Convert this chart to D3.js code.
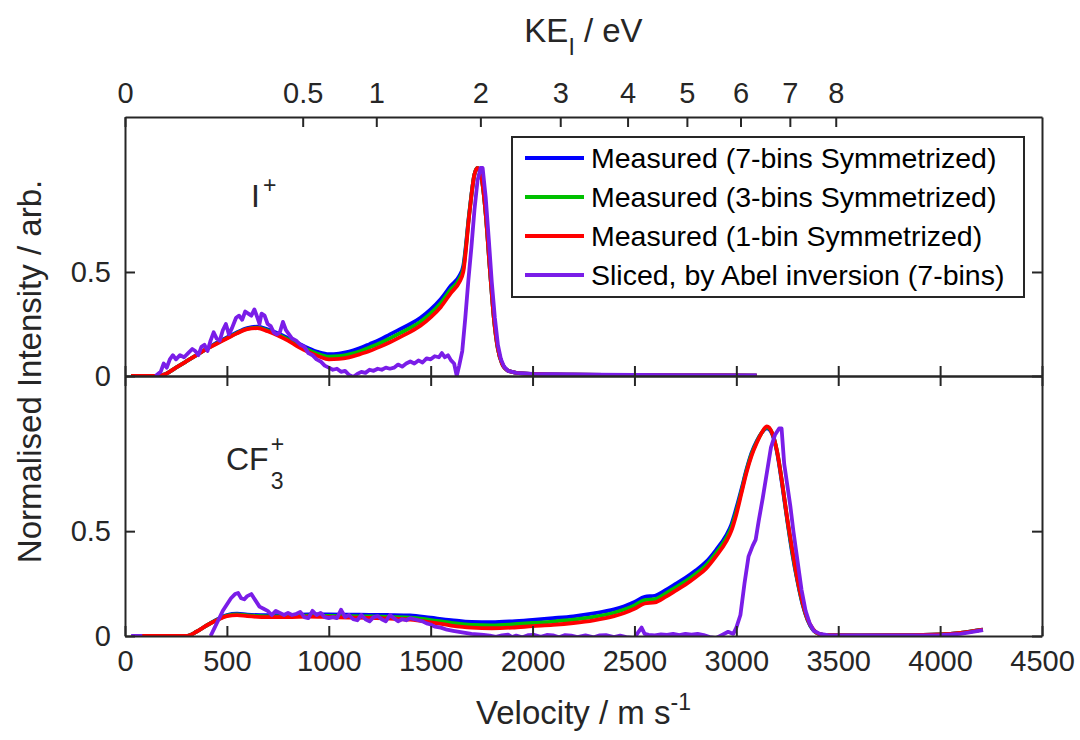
<!DOCTYPE html>
<html>
<head>
<meta charset="utf-8">
<script src="https://cdn.jsdelivr.net/npm/d3@7"></script>
<style>
  body { margin: 0; background: #fff; }
  svg text { font-family: "Liberation Sans", Arial, sans-serif; fill: #262626; }
  .axis path, .axis line { stroke: #262626; stroke-width: 2; }
  .axis text { font-size: 29px; }
</style>
</head>
<body>
<div id="chart"></div>
<script>
// ---- data ----
var velTicks = [0, 500, 1000, 1500, 2000, 2500, 3000, 3500, 4000, 4500];
var keTicks = [0, 0.5, 1, 2, 3, 4, 5, 6, 7, 8];
var yTicks = [0, 0.5];

var seriesNames = [
  "Measured (7-bins Symmetrized)",
  "Measured (3-bins Symmetrized)",
  "Measured (1-bin Symmetrized)",
  "Sliced, by Abel inversion (7-bins)"
];
var seriesColors = ["#0000ff", "#00c000", "#ff0000", "#7a1de8"];

// I+ panel, measured curves
var iVel = [30, 150, 200, 250, 300, 350, 400, 450, 500, 550, 600, 650, 700, 750, 800, 850, 900, 950,
  1000, 1050, 1100, 1150, 1200, 1250, 1300, 1350, 1400, 1450, 1500, 1550, 1600, 1640, 1660, 1690,
  1715, 1730, 1750, 1770, 1790, 1810, 1830, 1850, 1880, 1920, 2000, 2200, 2500, 2800, 3100];
var iBlue = [0, 0, 0.01, 0.04, 0.07, 0.1, 0.13, 0.16, 0.185, 0.21, 0.23, 0.237, 0.224, 0.205, 0.182, 0.158, 0.134, 0.115,
  0.105, 0.108, 0.117, 0.133, 0.153, 0.174, 0.2, 0.225, 0.25, 0.28, 0.32, 0.37, 0.435, 0.48, 0.53, 0.79,
  0.97, 1.0, 0.95, 0.78, 0.52, 0.28, 0.13, 0.06, 0.025, 0.015, 0.01, 0.006, 0.004, 0.003, 0.002];
var iGreen = [0, 0, 0.01, 0.04, 0.07, 0.1, 0.13, 0.157, 0.182, 0.207, 0.227, 0.233, 0.219, 0.2, 0.176, 0.149, 0.125, 0.105,
  0.093, 0.095, 0.104, 0.118, 0.137, 0.157, 0.181, 0.206, 0.231, 0.261, 0.301, 0.351, 0.418, 0.465, 0.515, 0.785,
  0.97, 1.0, 0.95, 0.78, 0.52, 0.28, 0.13, 0.06, 0.025, 0.015, 0.01, 0.006, 0.004, 0.003, 0.002];
var iRed = [0, 0, 0.01, 0.04, 0.07, 0.1, 0.13, 0.155, 0.18, 0.205, 0.225, 0.23, 0.215, 0.195, 0.17, 0.14, 0.115, 0.095,
  0.08, 0.082, 0.09, 0.104, 0.12, 0.14, 0.162, 0.187, 0.212, 0.242, 0.282, 0.332, 0.4, 0.45, 0.5, 0.78,
  0.97, 1.0, 0.95, 0.78, 0.52, 0.28, 0.13, 0.06, 0.025, 0.015, 0.01, 0.006, 0.004, 0.003, 0.002];

// I+ panel, sliced (Abel inverted)
var iSlicedVel = [150, 175, 190, 205, 220, 235, 250, 270, 290, 310, 330, 345, 360, 375, 390, 405, 420, 435,
  450, 465, 480, 495, 510, 525, 545, 560, 575, 590, 605, 620, 635, 650, 660, 670, 685, 700, 715, 730, 745,
  760, 775, 790, 805, 820, 840, 860, 880, 900, 920, 940, 960, 980, 1000, 1020, 1040, 1060, 1080, 1100,
  1120, 1140, 1160, 1180, 1200, 1220, 1240, 1260, 1280, 1300, 1320, 1340, 1360, 1380, 1400, 1420, 1440,
  1460, 1480, 1500, 1520, 1540, 1555, 1570, 1585, 1600, 1615, 1628, 1640, 1655, 1670, 1685, 1700, 1715,
  1730, 1745, 1755, 1770, 1785, 1800, 1815, 1830, 1845, 1860, 1880, 1920, 2000, 2300, 2700, 3100];
var iSliced = [0, 0.02, 0.06, 0.04, 0.08, 0.1, 0.08, 0.1, 0.09, 0.11, 0.13, 0.12, 0.1, 0.14, 0.15, 0.12, 0.17, 0.21,
  0.18, 0.17, 0.22, 0.25, 0.2, 0.23, 0.28, 0.29, 0.27, 0.31, 0.3, 0.29, 0.32, 0.28, 0.25, 0.3, 0.29, 0.25, 0.24, 0.21, 0.2,
  0.21, 0.26, 0.22, 0.2, 0.18, 0.17, 0.15, 0.14, 0.11, 0.1, 0.08, 0.07, 0.05, 0.04, 0.03, 0.035, 0.02, 0.025, 0.005,
  -0.005, 0.01, 0.02, 0.015, 0.03, 0.025, 0.035, 0.03, 0.04, 0.035, 0.04, 0.055, 0.045, 0.06, 0.07, 0.06, 0.075,
  0.065, 0.085, 0.08, 0.095, 0.09, 0.11, 0.09, 0.1, 0.075, 0.06, 0.0, 0.05, 0.12, 0.28, 0.46, 0.62, 0.8,
  0.94, 1.0, 1.0, 0.86, 0.66, 0.45, 0.28, 0.15, 0.08, 0.045, 0.025, 0.015, 0.01, 0.006, 0.004, 0.003];

// CF3+ panel, measured curves
var cfVel = [80, 300, 350, 400, 450, 500, 550, 600, 700, 800, 900, 1000, 1100, 1200, 1300, 1400, 1500, 1600,
  1700, 1800, 1900, 2000, 2100, 2200, 2300, 2400, 2450, 2500, 2550, 2600, 2650, 2700, 2750, 2800, 2850,
  2900, 2950, 2975, 3000, 3025, 3050, 3075, 3100, 3125, 3150, 3175, 3200, 3225, 3250, 3275, 3300, 3325,
  3350, 3375, 3400, 3450, 3600, 3800, 4000, 4100, 4210];
var cfBlue = [0, 0, 0.02, 0.05, 0.078, 0.1, 0.106, 0.102, 0.099, 0.1, 0.103, 0.103, 0.102, 0.101, 0.1, 0.098, 0.087, 0.076,
  0.067, 0.066, 0.07, 0.077, 0.085, 0.094, 0.108, 0.127, 0.142, 0.162, 0.187, 0.192, 0.217, 0.247, 0.277, 0.312, 0.352,
  0.41, 0.48, 0.53, 0.61, 0.7, 0.795, 0.875, 0.93, 0.97, 0.99, 0.965, 0.875, 0.72, 0.55, 0.39, 0.26, 0.15,
  0.075, 0.03, 0.012, 0.004, 0.003, 0.004, 0.008, 0.015, 0.03];
var cfGreen = [0, 0, 0.02, 0.05, 0.076, 0.097, 0.103, 0.098, 0.094, 0.095, 0.097, 0.096, 0.095, 0.093, 0.091, 0.088, 0.076, 0.063,
  0.053, 0.051, 0.055, 0.062, 0.069, 0.078, 0.091, 0.111, 0.126, 0.146, 0.171, 0.176, 0.201, 0.231, 0.261, 0.296, 0.336,
  0.395, 0.465, 0.515, 0.595, 0.69, 0.788, 0.868, 0.925, 0.97, 0.995, 0.97, 0.88, 0.73, 0.555, 0.4, 0.265, 0.155,
  0.077, 0.032, 0.012, 0.004, 0.003, 0.004, 0.008, 0.015, 0.03];
var cfRed = [0, 0, 0.02, 0.05, 0.075, 0.095, 0.1, 0.095, 0.09, 0.09, 0.092, 0.09, 0.088, 0.086, 0.083, 0.078, 0.065, 0.05,
  0.04, 0.037, 0.04, 0.047, 0.053, 0.062, 0.075, 0.095, 0.11, 0.13, 0.155, 0.16, 0.185, 0.215, 0.245, 0.28, 0.32,
  0.38, 0.45, 0.5, 0.58, 0.68, 0.78, 0.86, 0.92, 0.97, 1.0, 0.97, 0.88, 0.73, 0.56, 0.41, 0.27, 0.16,
  0.08, 0.035, 0.012, 0.004, 0.003, 0.004, 0.008, 0.015, 0.03];

// CF3+ panel, sliced (null = gap)
var cfSlicedVel = [30, 85, 90, 420, 440, 460, 480, 500, 520, 540, 555, 570, 585, 600, 620, 640, 660, 680, 700,
  720, 740, 760, 780, 800, 820, 840, 860, 880, 900, 920, 940, 960, 980, 1000, 1020, 1040, 1060, 1080, 1100,
  1120, 1140, 1160, 1180, 1200, 1220, 1240, 1260, 1280, 1300, 1320, 1340, 1360, 1380, 1400, 1420, 1440,
  1460, 1480, 1500, 1520, 1550, 1580, 1610, 1640, 1670, 1700, 1730, 1760, 1790, 1820, 1850, 1880, 1900,
  1920, 1950, 1980, 2010, 2040, 2070, 2100, 2130, 2160, 2190, 2220, 2260, 2300, 2330, 2360, 2400, 2430,
  2460, 2500, 2520, 2535, 2550, 2570, 2600, 2630, 2660, 2690, 2720, 2750, 2780, 2810, 2840, 2870, 2900,
  2930, 2960, 2985, 3000, 3020, 3040, 3060, 3080, 3095, 3110, 3130, 3150, 3170, 3190, 3210, 3222, 3235,
  3250, 3265, 3280, 3300, 3320, 3340, 3360, 3380, 3410, 3450, 3700, 4000, 4100, 4210];
var cfSliced = [0, 0, null, 0, 0.04, 0.08, 0.12, 0.15, 0.18, 0.2, 0.205, 0.18, 0.175, 0.19, 0.2, 0.17, 0.14, 0.13, 0.12,
  0.1, 0.12, 0.11, 0.1, 0.11, 0.1, 0.105, 0.115, 0.09, 0.085, 0.12, 0.1, 0.11, 0.09, 0.085, 0.09, 0.085, 0.125, 0.09, 0.1,
  0.08, 0.075, 0.1, 0.08, 0.07, 0.09, 0.095, 0.08, 0.07, 0.1, 0.085, 0.07, 0.08, 0.075, 0.085, 0.08, 0.075,
  0.07, 0.06, 0.055, 0.045, 0.04, 0.03, 0.025, 0.02, 0.015, 0.01, 0.008, 0.005, 0.002, -0.004, 0.003, 0.006, -0.005,
  0.002, -0.006, 0.004, 0.005, -0.004, 0.005, 0.003, -0.006, 0.004, 0.002, -0.005, 0.003, -0.006, 0.003, 0.004, -0.005, 0.002,
  -0.005, -0.01, 0.02, 0.04, 0.01, 0.005, 0.003, 0.008, 0.005, 0.01, 0.004, 0.01, 0.006, 0.01, 0.004, -0.005, -0.01,
  0.005, 0.02, 0.01, 0.04, 0.1, 0.25, 0.38, 0.43, 0.46, 0.55, 0.66, 0.78, 0.9, 0.96, 0.99, 0.99, 0.82,
  0.72, 0.62, 0.5, 0.36, 0.22, 0.12, 0.06, 0.025, 0.01, 0.004, 0.003, 0.004, 0.01, 0.028];

// ---- layout ----
var width = 1080, height = 740;
var left = 125, right = 1042, top1 = 117, mid = 376, bot = 636;
var ionMass = 126.904 * 1.66054e-27, eCharge = 1.602177e-19;

var svg = d3.select("#chart").append("svg")
  .attr("width", width).attr("height", height);

var x = d3.scaleLinear().domain([0, 4500]).range([left, right]);
// top axis: kinetic energy of I, v = sqrt(2 KE / m)
var keMax = 0.5 * ionMass * 4500 * 4500 / eCharge;
var xKE = d3.scaleSqrt().domain([0, keMax]).range([left, right]);
var yTop = d3.scaleLinear().domain([0, 1.245]).range([mid, top1]);
var yBot = d3.scaleLinear().domain([0, 1.24]).range([bot, mid]);

function zip(xs, ys) {
  return xs.map(function (v, i) { return { v: v, y: ys[i] }; });
}

var defs = svg.append("defs");
function addClip(id, y0, y1) {
  defs.append("clipPath").attr("id", id).append("rect")
    .attr("x", left).attr("y", y0).attr("width", right - left).attr("height", y1 - y0);
}
addClip("clipTop", top1, mid);
addClip("clipBot", mid, bot);

var lineW = 3.8;

function drawPanel(yScale, clipId, measured, sliced) {
  var g = svg.append("g").attr("clip-path", "url(#" + clipId + ")");
  var smooth = d3.line()
    .x(function (d) { return x(d.v); })
    .y(function (d) { return yScale(d.y); })
    .curve(d3.curveMonotoneX);
  var raw = d3.line()
    .defined(function (d) { return d.y !== null; })
    .x(function (d) { return x(d.v); })
    .y(function (d) { return yScale(d.y); });
  measured.forEach(function (data, i) {
    g.append("path").datum(data)
      .attr("fill", "none")
      .attr("stroke", seriesColors[i])
      .attr("stroke-width", lineW)
      .attr("stroke-linejoin", "round")
      .attr("d", smooth);
  });
  g.append("path").datum(sliced)
    .attr("fill", "none")
    .attr("stroke", seriesColors[3])
    .attr("stroke-width", lineW)
    .attr("stroke-linejoin", "round")
    .attr("d", raw);
}

drawPanel(yTop, "clipTop",
  [zip(iVel, iBlue), zip(iVel, iGreen), zip(iVel, iRed)],
  zip(iSlicedVel, iSliced));
drawPanel(yBot, "clipBot",
  [zip(cfVel, cfBlue), zip(cfVel, cfGreen), zip(cfVel, cfRed)],
  zip(cfSlicedVel, cfSliced));

// ---- axes (ticks pointing inward, full box) ----
var yFmt = function (d) { return d === 0 ? "0" : d; };

// top panel
svg.append("g").attr("class", "axis").attr("transform", "translate(0," + top1 + ")")
  .call(d3.axisTop(xKE).tickValues(keTicks).tickSize(-10).tickSizeOuter(0).tickPadding(14)
    .tickFormat(function (d) { return d; }));
svg.append("g").attr("class", "axis").attr("transform", "translate(0," + mid + ")")
  .call(d3.axisBottom(x).tickValues(velTicks).tickSize(-10).tickSizeOuter(0).tickFormat(""));
svg.append("g").attr("class", "axis").attr("transform", "translate(" + left + ",0)")
  .call(d3.axisLeft(yTop).tickValues(yTicks).tickSize(-10).tickSizeOuter(0).tickPadding(14).tickFormat(yFmt));
svg.append("g").attr("class", "axis").attr("transform", "translate(" + right + ",0)")
  .call(d3.axisRight(yTop).tickValues(yTicks).tickSize(-10).tickSizeOuter(0).tickFormat(""));

// bottom panel
svg.append("g").attr("class", "axis").attr("transform", "translate(0," + mid + ")")
  .call(d3.axisTop(x).tickValues(velTicks).tickSize(-10).tickSizeOuter(0).tickFormat(""));
svg.append("g").attr("class", "axis").attr("transform", "translate(0," + bot + ")")
  .call(d3.axisBottom(x).tickValues(velTicks).tickSize(-10).tickSizeOuter(0).tickPadding(14)
    .tickFormat(d3.format("d")));
svg.append("g").attr("class", "axis").attr("transform", "translate(" + left + ",0)")
  .call(d3.axisLeft(yBot).tickValues(yTicks).tickSize(-10).tickSizeOuter(0).tickPadding(14).tickFormat(yFmt));
svg.append("g").attr("class", "axis").attr("transform", "translate(" + right + ",0)")
  .call(d3.axisRight(yBot).tickValues(yTicks).tickSize(-10).tickSizeOuter(0).tickFormat(""));

// ---- axis titles ----
var keTitle = svg.append("text").attr("x", (left + right) / 2).attr("y", 42)
  .attr("text-anchor", "middle").style("font-size", "33px");
keTitle.append("tspan").text("KE");
keTitle.append("tspan").attr("dy", 13).style("font-size", "23px").text("I");
keTitle.append("tspan").attr("dy", -13).text(" / eV");

var vTitle = svg.append("text").attr("x", (left + right) / 2).attr("y", 724)
  .attr("text-anchor", "middle").style("font-size", "33px");
vTitle.append("tspan").text("Velocity / m s");
vTitle.append("tspan").attr("dy", -14).style("font-size", "23px").text("-1");

svg.append("text")
  .attr("transform", "translate(41," + ((top1 + bot) / 2 - 5) + ") rotate(-90)")
  .attr("text-anchor", "middle").style("font-size", "33px")
  .text("Normalised Intensity / arb.");

// ---- panel labels ----
var iLab = svg.append("text").attr("x", 251).attr("y", 207).style("font-size", "32px");
iLab.append("tspan").text("I");
iLab.append("tspan").attr("dx", 3).attr("dy", -14).style("font-size", "23px").text("+");

var cfLab = svg.append("text").attr("x", 226).attr("y", 470).style("font-size", "32px").text("CF");
var cfW = cfLab.node().getComputedTextLength();
svg.append("text").attr("x", 226 + cfW + 2).attr("y", 489).style("font-size", "23px").text("3");
svg.append("text").attr("x", 226 + cfW + 2).attr("y", 452).style("font-size", "23px").text("+");

// ---- legend ----
var leg = svg.append("g");
leg.append("rect").attr("x", 512).attr("y", 137).attr("width", 512).attr("height", 160)
  .attr("fill", "#fff").attr("stroke", "#262626").attr("stroke-width", 2);
seriesNames.forEach(function (name, i) {
  var cy = 158 + i * 39;
  leg.append("line").attr("x1", 525).attr("x2", 584).attr("y1", cy).attr("y2", cy)
    .attr("stroke", seriesColors[i]).attr("stroke-width", lineW);
  leg.append("text").attr("x", 591).attr("y", cy).attr("dy", "0.35em")
    .style("font-size", "28.5px").style("fill", "#000").text(name);
});
</script>
</body>
</html>
